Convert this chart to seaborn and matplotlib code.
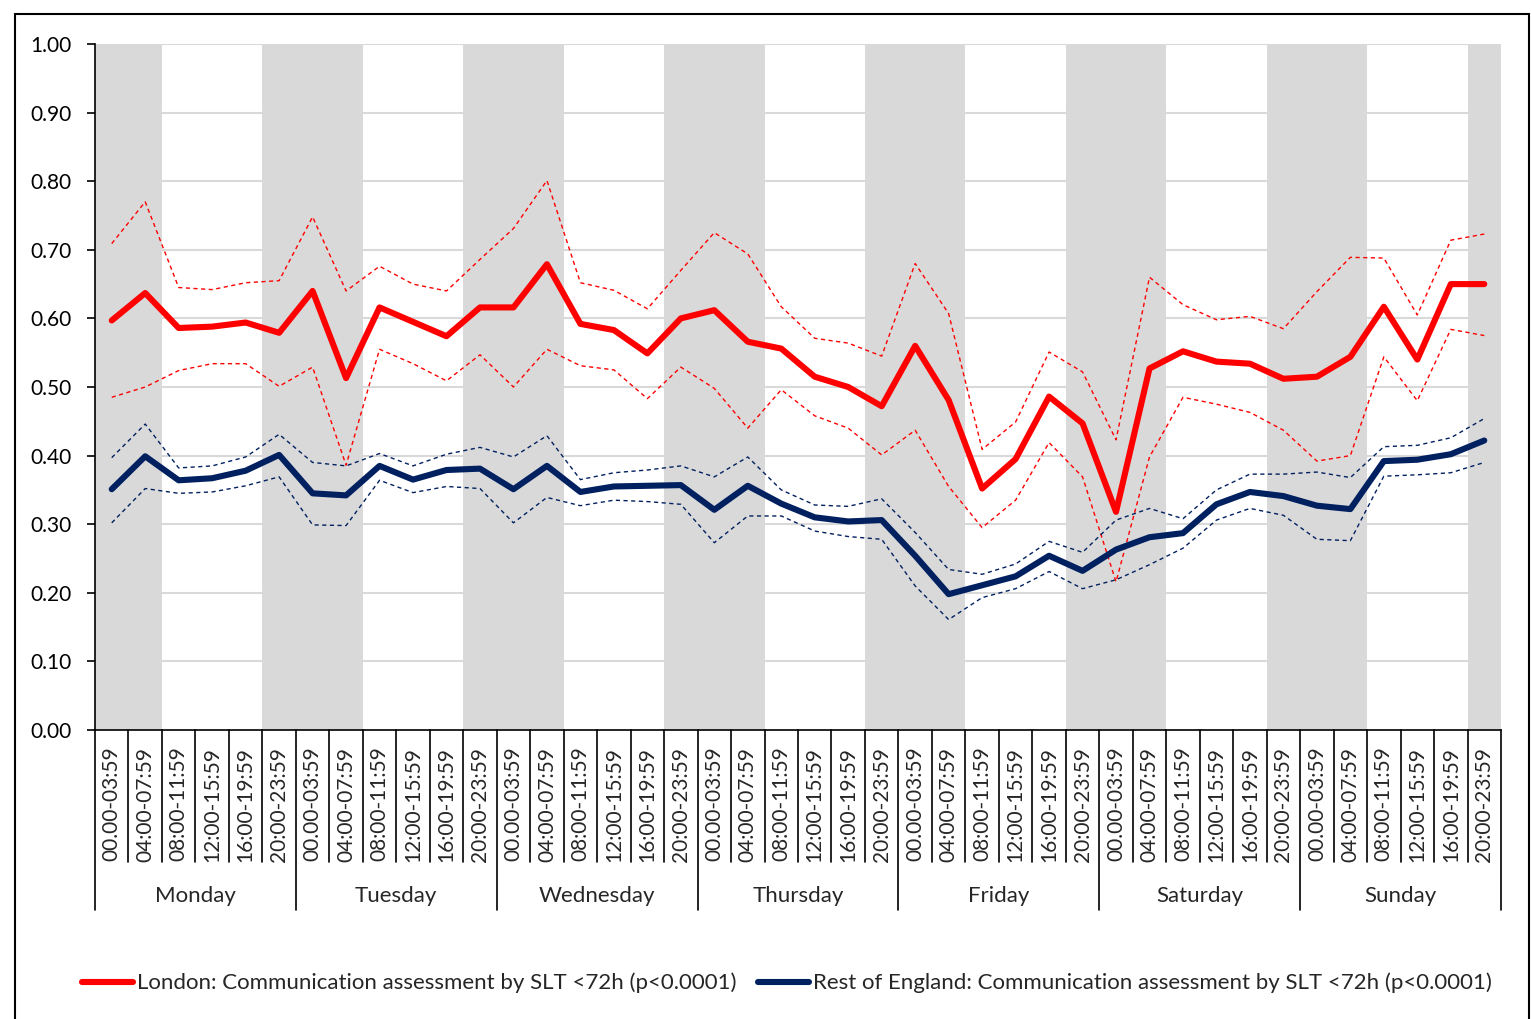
import numpy as np
import pandas as pd
import matplotlib
matplotlib.use("Agg")
import matplotlib.pyplot as plt
import matplotlib.transforms as mtransforms
from matplotlib.patches import Rectangle
import seaborn as sns

days = ['Monday', 'Tuesday', 'Wednesday', 'Thursday', 'Friday', 'Saturday', 'Sunday']
periods = ['00.00-03:59', '04:00-07:59', '08:00-11:59', '12:00-15:59', '16:00-19:59', '20:00-23:59']
night_periods = [0, 1, 5]

london = [0.597, 0.637, 0.586, 0.588, 0.594, 0.579,
          0.640, 0.513, 0.616, 0.595, 0.574, 0.616,
          0.616, 0.679, 0.592, 0.583, 0.549, 0.600,
          0.612, 0.566, 0.556, 0.515, 0.500, 0.472,
          0.560, 0.481, 0.352, 0.395, 0.486, 0.447,
          0.318, 0.527, 0.552, 0.537, 0.534, 0.512,
          0.515, 0.544, 0.617, 0.540, 0.650, 0.650]
london_hi = [0.709, 0.770, 0.645, 0.642, 0.652, 0.655,
             0.748, 0.640, 0.676, 0.650, 0.640, 0.686,
             0.731, 0.801, 0.652, 0.641, 0.614, 0.670,
             0.725, 0.694, 0.617, 0.571, 0.564, 0.545,
             0.680, 0.607, 0.409, 0.449, 0.551, 0.522,
             0.423, 0.660, 0.620, 0.598, 0.603, 0.585,
             0.639, 0.689, 0.688, 0.605, 0.714, 0.723]
london_lo = [0.485, 0.500, 0.524, 0.534, 0.534, 0.501,
             0.529, 0.386, 0.555, 0.534, 0.509, 0.547,
             0.500, 0.555, 0.531, 0.525, 0.483, 0.529,
             0.498, 0.440, 0.496, 0.458, 0.440, 0.401,
             0.437, 0.355, 0.295, 0.335, 0.419, 0.369,
             0.216, 0.398, 0.485, 0.475, 0.463, 0.437,
             0.392, 0.400, 0.544, 0.480, 0.584, 0.575]
rest = [0.351, 0.399, 0.364, 0.367, 0.378, 0.401,
        0.345, 0.342, 0.385, 0.365, 0.379, 0.381,
        0.351, 0.385, 0.347, 0.355, 0.356, 0.357,
        0.321, 0.356, 0.330, 0.310, 0.304, 0.306,
        0.254, 0.198, 0.211, 0.224, 0.254, 0.232,
        0.263, 0.281, 0.287, 0.329, 0.347, 0.341,
        0.327, 0.322, 0.392, 0.394, 0.402, 0.422]
rest_hi = [0.397, 0.446, 0.382, 0.385, 0.398, 0.431,
           0.390, 0.385, 0.403, 0.385, 0.402, 0.412,
           0.398, 0.429, 0.365, 0.375, 0.379, 0.385,
           0.369, 0.398, 0.350, 0.328, 0.326, 0.337,
           0.288, 0.234, 0.227, 0.242, 0.275, 0.259,
           0.306, 0.323, 0.308, 0.350, 0.373, 0.373,
           0.376, 0.368, 0.413, 0.415, 0.426, 0.454]
rest_lo = [0.302, 0.352, 0.345, 0.347, 0.356, 0.369,
           0.299, 0.298, 0.364, 0.346, 0.355, 0.352,
           0.302, 0.339, 0.327, 0.335, 0.333, 0.329,
           0.273, 0.312, 0.312, 0.290, 0.282, 0.278,
           0.210, 0.161, 0.193, 0.206, 0.231, 0.206,
           0.219, 0.241, 0.265, 0.306, 0.323, 0.313,
           0.278, 0.276, 0.370, 0.372, 0.375, 0.390]

label_london = 'London: Communication assessment by SLT <72h (p<0.0001)'
label_rest = 'Rest of England: Communication assessment by SLT <72h (p<0.0001)'
RED = '#ff0000'
NAVY = '#002060'
BAND = '#d9d9d9'

sns.set_style('white')
plt.rcParams['font.family'] = ['Lato', 'DejaVu Sans']

n = len(days) * len(periods)
df = pd.DataFrame({
    'pos': np.arange(n),
    'day': np.repeat(days, len(periods)),
    'period': periods * len(days),
    'london': london, 'london_hi': london_hi, 'london_lo': london_lo,
    'rest': rest, 'rest_hi': rest_hi, 'rest_lo': rest_lo,
})

fig = plt.figure(figsize=(15.31, 10.19), dpi=100)
ax = fig.add_axes([95 / 1531, 1 - 730 / 1019, 1406 / 1531, 686 / 1019])

# night-time shading
is_night = [p in night_periods for p in np.arange(n) % len(periods)]
start = None
for i in range(n + 1):
    night = i < n and is_night[i]
    if night and start is None:
        start = i
    elif not night and start is not None:
        ax.axvspan(start - 0.5, i - 0.5, color=BAND, lw=0, zorder=0)
        start = None

ax.set_ylim(0, 1.0)
ax.set_xlim(-0.5, n - 0.5)
ax.set_yticks(np.arange(0, 1.01, 0.1))
ax.set_yticklabels([f'{v:.2f}' for v in np.arange(0, 1.01, 0.1)], fontsize=15)
for v in np.arange(0.1, 1.01, 0.1):
    ax.axhline(v, color=BAND, lw=1.5, zorder=0.5)

dash = (3, 2.5)
sns.lineplot(data=df, x='pos', y='london_hi', ax=ax, color=RED, lw=1.0, zorder=3).lines[-1].set_dashes(dash)
sns.lineplot(data=df, x='pos', y='london_lo', ax=ax, color=RED, lw=1.0, zorder=3).lines[-1].set_dashes(dash)
sns.lineplot(data=df, x='pos', y='rest_hi', ax=ax, color=NAVY, lw=1.0, zorder=3).lines[-1].set_dashes(dash)
sns.lineplot(data=df, x='pos', y='rest_lo', ax=ax, color=NAVY, lw=1.0, zorder=3).lines[-1].set_dashes(dash)
sns.lineplot(data=df, x='pos', y='rest', ax=ax, color=NAVY, lw=4.4, zorder=4,
             label=label_rest, solid_capstyle='round', solid_joinstyle='round')
sns.lineplot(data=df, x='pos', y='london', ax=ax, color=RED, lw=4.4, zorder=5,
             label=label_london, solid_capstyle='round', solid_joinstyle='round')

if ax.get_legend() is not None:
    ax.get_legend().remove()

ax.set_xlabel('')
ax.set_ylabel('')
for s in ['top', 'right']:
    ax.spines[s].set_visible(False)
ax.spines['left'].set_color('black')
ax.spines['left'].set_linewidth(1.2)
ax.spines['bottom'].set_color('black')
ax.spines['bottom'].set_linewidth(1.2)
ax.spines['left'].set_zorder(6)
ax.spines['bottom'].set_zorder(6)
ax.tick_params(axis='y', left=True, length=6, width=1.2, pad=11, labelsize=15, colors='black')

ax.set_xticks(df['pos'])
ax.set_xticklabels(df['period'], rotation=90, fontsize=15)
ax.tick_params(axis='x', bottom=False, length=0, pad=12)

# category separators below the axis
trans = mtransforms.blended_transform_factory(ax.transData, ax.transAxes)
cat_bottom = -132 / 686
day_bottom = -180 / 686
for i in range(n + 1):
    y1 = day_bottom if i % len(periods) == 0 else cat_bottom
    ax.plot([i - 0.5, i - 0.5], [0, y1], color='black', lw=1.2, transform=trans, clip_on=False)
for d, day in enumerate(days):
    mid = d * len(periods) + (len(periods) - 1) / 2
    ax.text(mid, -166 / 686, day, transform=trans, ha='center', va='center', fontsize=16)

# legend
h, l = ax.get_legend_handles_labels()
order = [l.index(label_london), l.index(label_rest)]
fig.legend([h[k] for k in order], [l[k] for k in order], loc='center',
           bbox_to_anchor=(0.514, 1 - 983 / 1019), ncol=2, frameon=False,
           fontsize=16, handlelength=2.3, handletextpad=0.15, columnspacing=1.0)

# outer border
fig.patches.append(Rectangle((15 / 1531, -0.05), 1514 / 1531, 1.05 - 14 / 1019,
                             transform=fig.transFigure, fill=False, edgecolor='black', lw=1.5))

fig.savefig('out.png', dpi=100)
